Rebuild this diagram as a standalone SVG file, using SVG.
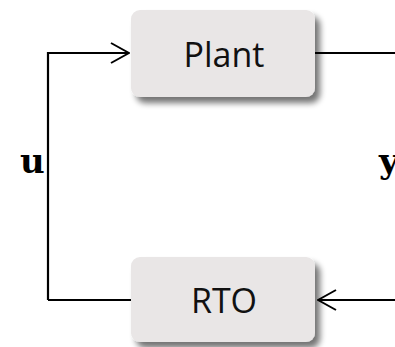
<svg xmlns="http://www.w3.org/2000/svg" width="395" height="347" viewBox="0 0 395 347">
<defs>
<filter id="sh" x="-20%" y="-30%" width="150%" height="170%">
<feGaussianBlur in="SourceAlpha" stdDeviation="3"/>
<feOffset dx="5" dy="6" result="b"/>
<feComponentTransfer><feFuncA type="linear" slope="0.55"/></feComponentTransfer>
<feMerge><feMergeNode/><feMergeNode in="SourceGraphic"/></feMerge>
</filter>
<marker id="ah" viewBox="0 0 20 22" refX="19" refY="11" markerWidth="20" markerHeight="22" markerUnits="userSpaceOnUse" orient="auto">
<path d="M1,1 L19,11 L1,21" fill="none" stroke="#000" stroke-width="2"/>
</marker>
</defs>
<style>
.box{fill:#E9E6E6;}
.lbl{font-family:"Open Sans","Noto Sans",sans-serif;font-size:34px;fill:#111;text-anchor:middle;}
.math{font-family:"DejaVu Serif","Liberation Serif",serif;font-weight:bold;font-size:34px;fill:#000;}
.c{fill:none;stroke:#000;stroke-width:2.2;}
</style>
<g id="connectors">
<path class="c" d="M48,300 L48,53 L129,53" marker-end="url(#ah)"/>
<path class="c" d="M131,300 L48,300"/>
<path class="c" d="M315,53 L395,53"/>
<path class="c" d="M395,300 L318,300" marker-end="url(#ah)"/>
</g>
<g id="plant">
<rect class="box" x="131" y="10" width="184" height="87" rx="9" filter="url(#sh)"/>
<text class="lbl" x="224" y="67">Plant</text>
</g>
<g id="rto">
<rect class="box" x="131" y="257" width="184" height="85" rx="9" filter="url(#sh)"/>
<text class="lbl" x="224" y="313">RTO</text>
</g>
<g id="labels">
<text class="math" x="20" y="173">u</text>
<text class="math" x="379" y="173">y</text>
</g>
</svg>
